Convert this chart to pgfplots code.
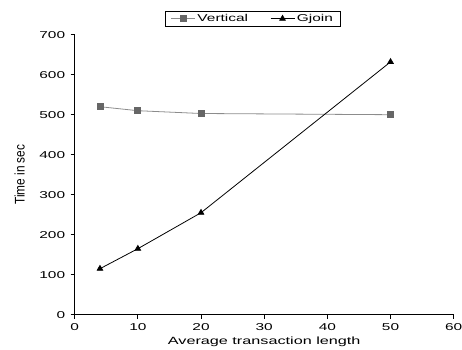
\documentclass[border=0pt]{standalone}
\usepackage{fontspec}
\setmainfont{Liberation Sans}
\newfontfamily\widefont[FakeStretch=1.55]{Liberation Sans}
\newfontfamily\narrowfont[FakeStretch=0.85]{Liberation Sans}
\usepackage{pgfplots}
\pgfplotsset{compat=1.18}
\begin{document}
\begin{tikzpicture}
\begin{axis}[
  scale only axis,
  width=379bp, height=280bp,
  at={(0,0)}, anchor=south west,
  xmin=0, xmax=60, ymin=0, ymax=700,
  xtick={0,10,...,60}, ytick={0,100,...,700},
  axis x line*=bottom, axis y line*=left,
  axis line style={black, line width=0.8pt, -},
  tick style={black, line width=0.8pt},
  tick align=outside,
  major tick length=4bp,
  /pgf/number format/assume math mode=true,
  ticklabel style={font=\widefont\fontsize{10}{12}\selectfont},
  xticklabel style={yshift=-1bp},
  yticklabel style={xshift=-2bp},
  xlabel={Average transaction length},
  ylabel={Time in sec},
  every axis x label/.style={at={(rel axis cs:0.5,0)}, yshift=-27bp, anchor=center, font=\widefont\fontsize{10.5}{12}\selectfont},
  every axis y label/.style={at={(rel axis cs:0,0.5)}, xshift=-55bp, anchor=center, rotate=90, font=\narrowfont\fontsize{14}{16}\selectfont},
  legend style={at={(0.47,1.03)}, anchor=south, legend columns=2, draw=black, line width=0.6pt,
    font=\widefont\fontsize{10}{12}\selectfont, inner xsep=5bp, inner ysep=1pt,
    /tikz/every even column/.append style={column sep=20bp}},
  legend image code/.code={%
    \draw[mark repeat=2,mark phase=2] plot coordinates {(0bp,0bp) (12bp,0bp) (24bp,0bp)};},
  legend cell align=left,
]
\addplot[color=gray!90, line width=0.8pt, mark=square*, mark size=3bp, mark options={fill=black!60, draw=black!60}]
  coordinates {(4,520) (10,510) (20,503) (50,500)};
\addlegendentry{Vertical}
\addplot[color=black, line width=0.8pt, mark=triangle*, mark size=3.2bp, mark options={fill=black}]
  coordinates {(4,115) (10,165) (20,255) (50,632)};
\addlegendentry{Gjoin}
\end{axis}
\pgfresetboundingbox
\path[use as bounding box] (-74.7bp,-34.7bp) rectangle (387.3bp,314.7bp);
\end{tikzpicture}
\end{document}
